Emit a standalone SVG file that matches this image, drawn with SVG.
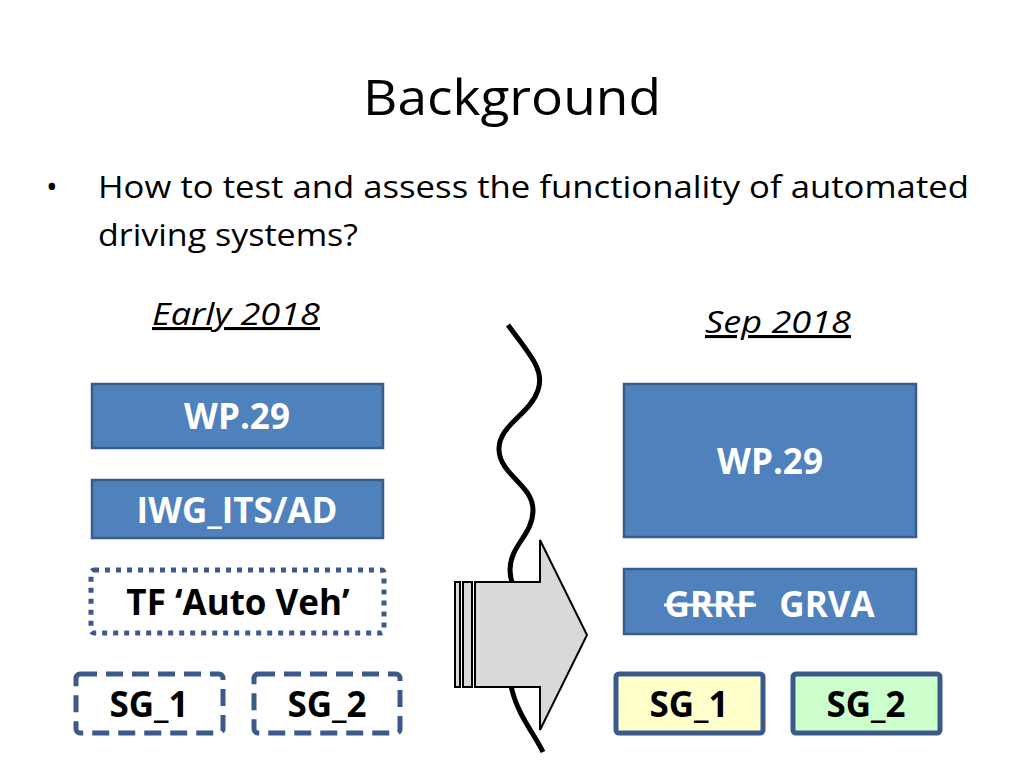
<svg xmlns="http://www.w3.org/2000/svg" width="1024" height="768" viewBox="0 0 1024 768">
<style>
text{font-family:"Open Sans","Liberation Sans",sans-serif}
.t{font-size:31px;fill:#000}
.u{font-size:31px;font-style:italic;fill:#000;text-decoration:underline}
.box{fill:#4f81bd;stroke:#385d8a;stroke-width:2.5}
.wl{font-size:35px;font-weight:bold;fill:#fff;text-anchor:middle}
.bl{font-size:35px;font-weight:bold;fill:#000;text-anchor:middle}
.dot{fill:none;stroke:#3b5a8a;stroke-width:5;stroke-dasharray:5 6}
.dash{fill:none;stroke:#3b5a8a;stroke-width:5;stroke-dasharray:17 9}
.sg{stroke:#3b5a8a;stroke-width:5}
.ar{fill:#d9d9d9;stroke:#000;stroke-width:2}
</style>
<rect width="1024" height="768" fill="#fff"/>
<text x="512" y="115" font-size="50" text-anchor="middle" textLength="298" lengthAdjust="spacingAndGlyphs">Background</text>
<text x="46" y="198" class="t">•</text>
<text x="98" y="198" class="t" textLength="871" lengthAdjust="spacingAndGlyphs">How to test and assess the functionality of automated</text>
<text x="98" y="246" class="t" textLength="260" lengthAdjust="spacingAndGlyphs">driving systems?</text>
<text x="152" y="325" class="u" textLength="168" lengthAdjust="spacingAndGlyphs">Early 2018</text>
<text x="705" y="333" class="u" textLength="146" lengthAdjust="spacingAndGlyphs">Sep 2018</text>

<g id="connectors">
<path d="M508,325 C530,355 545,370 538,390 C530,415 498,425 499,450 C500,475 533,485 533,510 C533,535 510,545 510,570 C510,595 533,605 533,630 C533,660 505,665 512,690 C518,715 535,735 543,752" fill="none" stroke="#000" stroke-width="5"/>
<g id="arrow">
<rect x="455" y="582" width="5" height="105" class="ar"/>
<rect x="463" y="582" width="9" height="105" class="ar"/>
<path d="M475,582 L540,582 L540,540 L587,635 L540,730 L540,687 L475,687 Z" class="ar"/>
</g>
</g>

<g id="wp29-left"><rect x="92" y="384" width="291" height="64" class="box"/><text x="237" y="429" class="wl">WP.29</text></g>
<g id="iwg"><rect x="92" y="480" width="291" height="58" class="box"/><text x="237" y="523" class="wl">IWG_ITS/AD</text></g>
<g id="tf"><rect x="91" y="570" width="293" height="63" rx="3" class="dot"/><text x="238" y="615" class="bl">TF ‘Auto Veh’</text></g>
<g id="sg1-left"><rect x="76" y="674" width="147" height="59" rx="4" class="dash"/><text x="149" y="717" class="bl">SG_1</text></g>
<g id="sg2-left"><rect x="254" y="674" width="146" height="59" rx="4" class="dash"/><text x="327" y="717" class="bl">SG_2</text></g>

<g id="wp29-right"><rect x="624" y="384" width="292" height="153" class="box"/><text x="770" y="474" class="wl">WP.29</text></g>
<g id="grva"><rect x="624" y="569" width="292" height="65" class="box"/>
<text x="710" y="617" class="wl">GRRF</text><line x1="664" y1="605" x2="756" y2="605" stroke="#fff" stroke-width="3"/>
<text x="827" y="617" class="wl">GRVA</text></g>
<g id="sg1-right"><rect x="616" y="674" width="147" height="59" rx="3" fill="#ffffcc" class="sg"/><text x="689" y="717" class="bl">SG_1</text></g>
<g id="sg2-right"><rect x="793" y="674" width="147" height="59" rx="3" fill="#ccffcc" class="sg"/><text x="866" y="717" class="bl">SG_2</text></g>
</svg>
